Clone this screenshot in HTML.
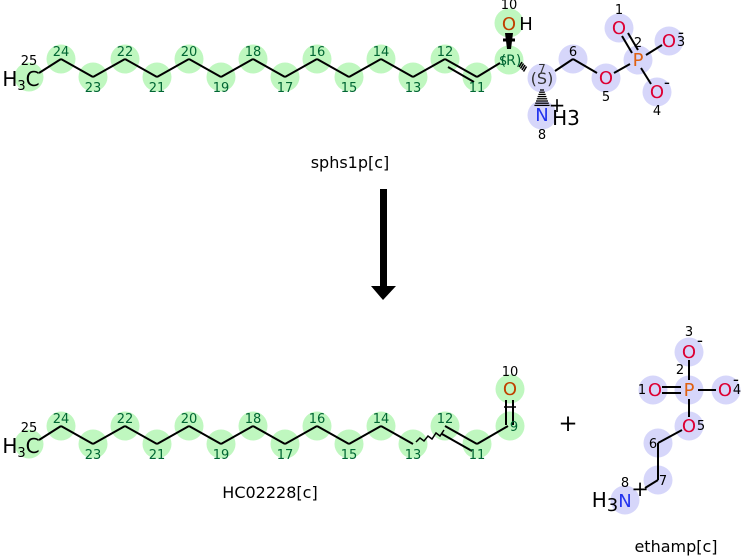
<!DOCTYPE html>
<html><head><meta charset="utf-8"><style>
body{margin:0;background:#fff}
svg{display:block;font-family:"DejaVu Sans","Liberation Sans",sans-serif}
</style></head><body>
<svg id="s" width="741" height="556" viewBox="0 0 741 556" xmlns="http://www.w3.org/2000/svg"></svg>
<script>
const s=document.getElementById('s');let h='';
const G='#bff7bf',B='#d6d6fa';
function c(x,y,f){h+=`<circle cx="${x}" cy="${y}" r="14.5" fill="${f}"/>`;}
function l(a,b,w){h+=`<line x1="${a[0]}" y1="${a[1]}" x2="${b[0]}" y2="${b[1]}" stroke="#000" stroke-width="${w||2}"/>`;}
function t(x,y,str,sz,col,anc){h+=`<text x="${x}" y="${y}" font-size="${sz}" fill="${col||'#000'}" text-anchor="${anc||'middle'}">${str}</text>`;}
function chain(up,dn){
  const pts=[];
  for(let i=0;i<=13;i++){const n=25-i;const x=29+32*i;const y=(i%2==1)?up:dn;pts.push([x,y,n]);}
  pts.forEach(p=>c(p[0],p[1],G));
  return pts;
}
let U=59,D=77;
let p=chain(U,D);
c(477,D,G);
c(509,60,G);c(509,23,G);
[[542,78],[542,115],[573,59],[606,78],[638,60],[619,28],[669,41],[657,92]].forEach(q=>c(q[0],q[1],B));
for(let i=1;i<p.length;i++){if(i==13)continue;l([p[i-1][0]+(i==1?10:0),p[i-1][1]-(i==1?4:0)],p[i]);}
l([413,D],[445,U]);
l([445,U],[477,D]);l([448,67],[474,82]);
l([477,D],[500,63]);
p.forEach(q=>{if(q[2]==25)return;const up=q[1]==U;t(q[0],up?q[1]-3:q[1]+15,q[2],13,'#063');});
t(477,92,'11',13,'#063');
t(29,65,'25',13,'#000');
t(21,86,'H<tspan font-size="13" dy="4">3</tspan><tspan dy="-4">C</tspan>',20,'#000');
t(511,65,'(R)',14,'#063');t(503,65,'S',12,'#063');
t(509,30,'O',18,'#c04000');t(526,30,'H',18,'#000');t(509,9,'10',13,'#000');
h+=`<polygon points="505,33 513,33 511,49 507,49" fill="#000"/>`;l([503,40],[515,40],3);
for(let k=0;k<4;k++){l([522+k*1.5,64+k*1.5-2],[522+k*1.5-3,64+k*1.5+3],1.5);}
t(542,84,'(S)',16,'#333');t(542,73,'7',12,'#333');
for(let k=0;k<8;k++){const w=2+k*0.8;l([542-w,90+k*2.2],[542+w,90+k*2.2],1.3);}
t(542,121,'N',18,'#2233ee');t(566,125,'H3',20,'#000','middle');t(557,112,'+',20,'#000');t(542,139,'8',13,'#000');
l([555,71],[573,59]);l([573,59],[597,73]);l([614,73],[630,64]);
l([622,36],[632,53]);l([628,33],[638,50]);l([646,55],[662,45]);l([641,68],[651,84]);
t(573,56,'6',13,'#000');t(606,84,'O',18,'#dd0033');t(606,101,'5',13,'#000');
t(638,66,'P',18,'#e06010');t(638,47,'2',13,'#000');
t(619,34,'O',18,'#dd0033');t(619,14,'1',13,'#000');
t(669,47,'O',18,'#dd0033');t(681,46,'3',13,'#000');t(681,38,'-',17,'#000');
t(657,98,'O',18,'#dd0033');t(667,88,'-',17,'#000');t(657,115,'4',13,'#000');
t(350,168,'sphs1p[c]',16,'#000');
h+=`<rect x="380" y="189" width="7" height="98" fill="#000"/><polygon points="371,286 396,286 383,300" fill="#000"/>`;
U=426;D=444;
p=chain(U,D);c(477,D,G);c(510,426,G);c(510,389,G);
for(let i=1;i<p.length;i++){if(i==13)continue;l([p[i-1][0]+(i==1?10:0),p[i-1][1]-(i==1?4:0)],p[i]);}
h+=`<polyline points="416,442 420,438 424,441 428,436 432,439 436,433 440,436 444,430" fill="none" stroke="#000" stroke-width="1.5"/>`;
l([445,U],[477,D]);l([442,434],[472,451]);
l([477,D],[508,426]);l([506,400],[506,425]);l([513,400],[513,425]);l([504,407],[516,407],1.5);
p.forEach(q=>{if(q[2]==25)return;const up=q[1]==U;t(q[0],up?q[1]-3:q[1]+15,q[2],13,'#063');});
t(477,459,'11',13,'#063');t(514,431,'9',13,'#063');
t(29,432,'25',13,'#000');
t(21,453,'H<tspan font-size="13" dy="4">3</tspan><tspan dy="-4">C</tspan>',20,'#000');
t(510,395,'O',18,'#c04000');t(510,376,'10',13,'#000');
t(568,431,'+',23,'#000');
t(270,498,'HC02228[c]',16,'#000');
[[689,352],[689,390],[653,390],[726,390],[689,426],[658,443],[658,480],[625,500]].forEach(q=>c(q[0],q[1],B));
l([689,360],[689,380]);l([698,390],[716,390]);l([662,387],[681,387]);l([662,393],[681,393]);l([689,399],[689,417]);
l([682,430],[658,443]);l([658,443],[658,480]);l([658,480],[645,488]);
t(689,358,'O',18,'#dd0033');t(689,336,'3',13,'#000');t(700,346,'-',17,'#000');
t(689,396,'P',18,'#e06010');t(680,374,'2',13,'#000');
t(655,396,'O',18,'#dd0033');t(642,394,'1',13,'#000');
t(725,396,'O',18,'#dd0033');t(737,394,'4',13,'#000');t(736,385,'-',17,'#000');
t(689,432,'O',18,'#dd0033');t(701,430,'5',13,'#000');
t(653,448,'6',13,'#000');t(663,485,'7',13,'#000');
t(625,507,'N',18,'#2233ee');t(605,507,'H<tspan font-size="18" dy="4">3</tspan>',20,'#000');t(640,496,'+',21,'#000');t(625,487,'8',13,'#000');
t(676,552,'ethamp[c]',16,'#000');
s.innerHTML=h;
</script>
</body></html>
